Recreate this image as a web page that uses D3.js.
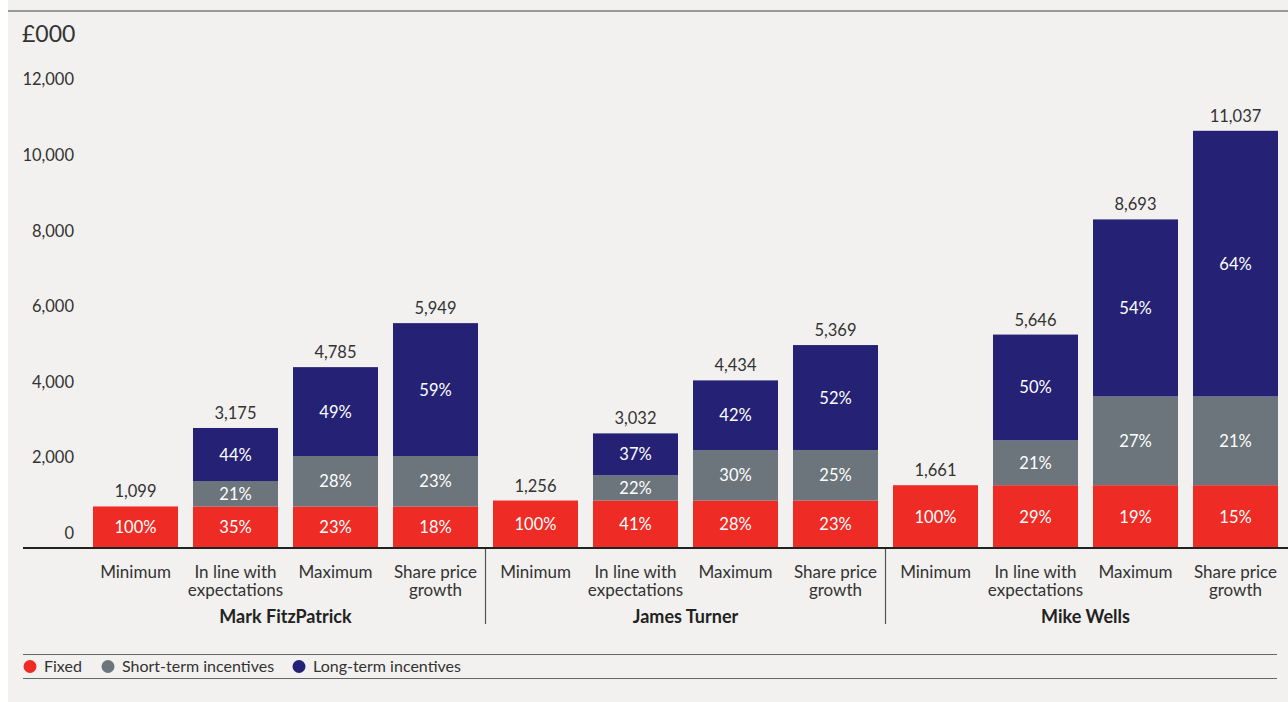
<!DOCTYPE html>
<html>
<head>
<meta charset="utf-8">
<title>Remuneration scenarios</title>
<script src="https://cdnjs.cloudflare.com/ajax/libs/d3/7.8.5/d3.min.js"></script>
<style>
  body { margin: 0; background: #fff; }
  svg { font-family: Lato, "Open Sans", sans-serif; display: block; }
</style>
</head>
<body>
<script>
// data, £000
var people = ["Mark FitzPatrick", "James Turner", "Mike Wells"];
var scenarios = ["Minimum", "In line with|expectations", "Maximum", "Share price|growth"];
var fixed = [1099, 1099, 1099, 1099, 1256, 1256, 1256, 1256, 1661, 1661, 1661, 1661];
var sti   = [0, 673, 1335, 1335, 0, 667, 1334, 1334, 0, 1186, 2347, 2347];
var lti   = [0, 1403, 2351, 3515, 0, 1109, 1844, 2779, 0, 2799, 4685, 7029];
var totals = [1099, 3175, 4785, 5949, 1256, 3032, 4434, 5369, 1661, 5646, 8693, 11037];
var pctFixed = ["100%", "35%", "23%", "18%", "100%", "41%", "28%", "23%", "100%", "29%", "19%", "15%"];
var pctSti   = ["", "21%", "28%", "23%", "", "22%", "30%", "25%", "", "21%", "27%", "21%"];
var pctLti   = ["", "44%", "49%", "59%", "", "37%", "42%", "52%", "", "50%", "54%", "64%"];
var yTicks = [0, 2000, 4000, 6000, 8000, 10000, 12000];
var legendItems = ["Fixed", "Short-term incentives", "Long-term incentives"];
var colors = ["#ee2b24", "#6b757b", "#252276"];

var W = 1288, H = 702;
var svg = d3.select("body").append("svg").attr("width", W).attr("height", H);

svg.append("rect").attr("x", 8).attr("y", 0).attr("width", W - 8).attr("height", H)
  .attr("fill", "#f2f1ef");
svg.append("line").attr("x1", 8).attr("x2", W).attr("y1", 11).attr("y2", 11)
  .attr("stroke", "#7a7a7a").attr("stroke-width", 1.5);

svg.append("text").attr("x", 22).attr("y", 42).attr("font-size", 23)
  .attr("fill", "#333").text("£000");

var keys = d3.range(12);
var x = d3.scaleBand().domain(keys).range([85.5, 1285.5])
  .paddingInner(0.15).paddingOuter(0.075);
var y = d3.scaleLinear().domain([0, 12000]).range([548, 94.4]);

// y labels (sit above their value)
svg.append("g").selectAll("text").data(yTicks).join("text")
  .attr("x", 74).attr("y", function(d) { return y(d) - 9; })
  .attr("text-anchor", "end").attr("font-size", 16.5).attr("fill", "#333")
  .text(function(d) { return d3.format(",")(d); });

var rows = keys.map(function(i) {
  return { key: i, fixed: fixed[i], sti: sti[i], lti: lti[i] };
});
var stack = d3.stack().keys(["fixed", "sti", "lti"])(rows);
var pcts = [pctFixed, pctSti, pctLti];

stack.forEach(function(layer, li) {
  var g = svg.append("g");
  g.selectAll("rect").data(layer).join("rect")
    .attr("x", function(d) { return x(d.data.key); })
    .attr("y", function(d) { return y(d[1]); })
    .attr("width", x.bandwidth())
    .attr("height", function(d) { return y(d[0]) - y(d[1]); })
    .attr("fill", colors[li]);
  g.selectAll("text").data(layer).join("text")
    .attr("x", function(d) { return x(d.data.key) + x.bandwidth() / 2; })
    .attr("y", function(d) { return (y(d[0]) + y(d[1])) / 2 + 6; })
    .attr("text-anchor", "middle").attr("font-size", 16.5).attr("fill", "#fff")
    .text(function(d, i) { return pcts[li][i]; });
});

// totals
svg.append("g").selectAll("text").data(keys).join("text")
  .attr("x", function(i) { return x(i) + x.bandwidth() / 2; })
  .attr("y", function(i) { return y(totals[i]) - 9; })
  .attr("text-anchor", "middle").attr("font-size", 16.5).attr("fill", "#333")
  .text(function(i) { return d3.format(",")(totals[i]); });

// baseline
svg.append("line").attr("x1", 23).attr("x2", W).attr("y1", 548).attr("y2", 548)
  .attr("stroke", "#222").attr("stroke-width", 2);

// scenario labels
var cat = svg.append("g").selectAll("text").data(keys).join("text")
  .attr("text-anchor", "middle").attr("font-size", 17).attr("fill", "#333");
cat.each(function(i) {
  var lines = scenarios[i % 4].split("|");
  var t = d3.select(this);
  lines.forEach(function(l, j) {
    t.append("tspan").attr("x", x(i) + x.bandwidth() / 2)
      .attr("y", 578 + j * 18).text(l);
  });
});

// group labels and separators
people.forEach(function(p, gi) {
  var x0 = x(gi * 4), x1 = x(gi * 4 + 3) + x.bandwidth();
  svg.append("text").attr("x", (x0 + x1) / 2).attr("y", 623)
    .attr("text-anchor", "middle").attr("font-size", 18).attr("font-weight", "bold")
    .attr("fill", "#222").text(p);
  if (gi > 0) {
    var sx = x0 - x.step() * x.paddingInner() / 2;
    svg.append("line").attr("x1", sx).attr("x2", sx).attr("y1", 549).attr("y2", 624)
      .attr("stroke", "#555").attr("stroke-width", 1.2);
  }
});

// legend
svg.append("line").attr("x1", 23).attr("x2", 1277).attr("y1", 654.5).attr("y2", 654.5)
  .attr("stroke", "#666").attr("stroke-width", 1.2);
svg.append("line").attr("x1", 23).attr("x2", 1277).attr("y1", 678.5).attr("y2", 678.5)
  .attr("stroke", "#666").attr("stroke-width", 1.2);
var legX = [30, 108, 299];
legendItems.forEach(function(name, i) {
  svg.append("circle").attr("cx", legX[i]).attr("cy", 666.5).attr("r", 6.5)
    .attr("fill", colors[i]);
  svg.append("text").attr("x", legX[i] + 14).attr("y", 672).attr("font-size", 16)
    .attr("fill", "#333").text(name);
});
</script>
</body>
</html>
